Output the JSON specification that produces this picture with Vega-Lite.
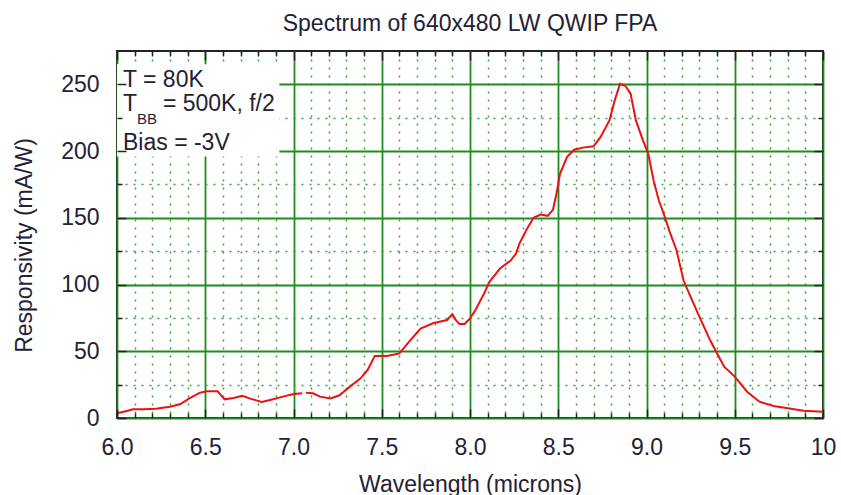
{
  "$schema": "https://vega.github.io/schema/vega-lite/v6.json",
  "width": 706,
  "height": 367,
  "autosize": "none",
  "padding": {"left": 117, "top": 51, "right": 18, "bottom": 77},
  "background": "white",
  "config": {
    "font": "Liberation Sans",
    "view": {"stroke": "#222222", "strokeWidth": 2},
    "axis": {"labelFont": "Liberation Sans", "titleFont": "Liberation Sans", "labelColor": "#222233", "titleColor": "#222233", "labelFontSize": 23, "titleFontSize": 23, "titleFontWeight": "normal", "labelOverlap": false, "labelFlush": false}
  },
  "title": {"text": "Spectrum of 640x480 LW QWIP FPA", "fontSize": 23, "fontWeight": "normal", "color": "#222233", "offset": 14},
  "datasets": {
    "box": [{"x0": 6.0, "x1": 6.92, "y0": 196, "y1": 265}],
    "spectrum": [
      {"w": 6.00, "r": 3.5}, {"w": 6.05, "r": 5}, {"w": 6.09, "r": 6.5}, {"w": 6.15, "r": 6.5},
      {"w": 6.22, "r": 7}, {"w": 6.30, "r": 8.5}, {"w": 6.36, "r": 10.5}, {"w": 6.41, "r": 14.7},
      {"w": 6.47, "r": 19}, {"w": 6.51, "r": 20}, {"w": 6.57, "r": 20}, {"w": 6.61, "r": 14},
      {"w": 6.66, "r": 15}, {"w": 6.71, "r": 16.7}, {"w": 6.75, "r": 14.7}, {"w": 6.82, "r": 12},
      {"w": 6.89, "r": 14.2}, {"w": 6.94, "r": 16}, {"w": 7.00, "r": 18}, {"w": 7.05, "r": 18.5},
      {"w": 7.06, "r": null},
      {"w": 7.07, "r": 19}, {"w": 7.11, "r": 18.5}, {"w": 7.15, "r": 16}, {"w": 7.21, "r": 14.7},
      {"w": 7.26, "r": 17}, {"w": 7.32, "r": 23.5}, {"w": 7.38, "r": 29.7}, {"w": 7.42, "r": 36},
      {"w": 7.46, "r": 46.4}, {"w": 7.53, "r": 46.4}, {"w": 7.60, "r": 48.4}, {"w": 7.66, "r": 58},
      {"w": 7.72, "r": 67}, {"w": 7.79, "r": 71}, {"w": 7.87, "r": 73.4}, {"w": 7.90, "r": 77.8},
      {"w": 7.92, "r": 73.4}, {"w": 7.94, "r": 70.4}, {"w": 7.97, "r": 70.4}, {"w": 8.00, "r": 74.6},
      {"w": 8.03, "r": 80.8}, {"w": 8.08, "r": 93.3}, {"w": 8.11, "r": 102}, {"w": 8.17, "r": 112},
      {"w": 8.23, "r": 118}, {"w": 8.26, "r": 123}, {"w": 8.28, "r": 130.7}, {"w": 8.32, "r": 141},
      {"w": 8.36, "r": 150}, {"w": 8.40, "r": 152.5}, {"w": 8.44, "r": 151.5}, {"w": 8.47, "r": 156},
      {"w": 8.49, "r": 168}, {"w": 8.51, "r": 183}, {"w": 8.55, "r": 195.7}, {"w": 8.59, "r": 201},
      {"w": 8.64, "r": 202.6}, {"w": 8.70, "r": 203.6}, {"w": 8.74, "r": 210.6}, {"w": 8.79, "r": 223},
      {"w": 8.82, "r": 238}, {"w": 8.85, "r": 250.5}, {"w": 8.88, "r": 249}, {"w": 8.91, "r": 243},
      {"w": 8.94, "r": 223}, {"w": 8.98, "r": 208}, {"w": 9.01, "r": 198}, {"w": 9.04, "r": 178},
      {"w": 9.07, "r": 163}, {"w": 9.10, "r": 152}, {"w": 9.13, "r": 140}, {"w": 9.17, "r": 125.7},
      {"w": 9.21, "r": 103}, {"w": 9.25, "r": 90.8}, {"w": 9.30, "r": 75.8}, {"w": 9.36, "r": 58.4},
      {"w": 9.40, "r": 48.4}, {"w": 9.44, "r": 38.4}, {"w": 9.50, "r": 31}, {"w": 9.57, "r": 19.7},
      {"w": 9.64, "r": 12.2}, {"w": 9.72, "r": 9}, {"w": 9.81, "r": 7.2}, {"w": 9.89, "r": 5.5},
      {"w": 10.0, "r": 4.7}
    ],
    "notes": [
      {"x": 6.034, "y": 253.0, "t": "T = 80K"},
      {"x": 6.034, "y": 235.3, "t": "T"},
      {"x": 6.26, "y": 235.3, "t": "= 500K, f/2"},
      {"x": 6.034, "y": 206.0, "t": "Bias = -3V"}
    ],
    "sub": [{"x": 6.113, "y": 224.0, "t": "BB"}]
  },
  "resolve": {"axis": {"x": "independent", "y": "independent"}},
  "layer": [
    {
      "data": {"name": "box"},
      "mark": {"type": "rect", "fill": "white", "stroke": null},
      "encoding": {
        "x": {"field": "x0", "type": "quantitative", "scale": {"domain": [6, 10], "nice": false, "zero": false},
          "axis": {"orient": "bottom", "title": "Wavelength (microns)", "titlePadding": 14,
            "values": [6.0,6.1,6.2,6.3,6.4,6.5,6.6,6.7,6.8,6.9,7.0,7.1,7.2,7.3,7.4,7.5,7.6,7.7,7.8,7.9,8.0,8.1,8.2,8.3,8.4,8.5,8.6,8.7,8.8,8.9,9.0,9.1,9.2,9.3,9.4,9.5,9.6,9.7,9.8,9.9,10.0],
            "labelExpr": "round(datum.value*10) % 5 == 0 ? (round(datum.value*10) == 100 ? '10' : format(datum.value, '.1f')) : ''",
            "labelPadding": 18, "ticks": false, "domain": false, "grid": true, "zindex": 0,
            "gridColor": {"condition": {"test": "round(datum.value*10) % 5 == 0", "value": "#1e8c1e"}, "value": "#36a336"},
            "gridDash": {"condition": {"test": "round(datum.value*10) % 5 == 0", "value": []}, "value": [2, 6]},
            "gridWidth": {"condition": {"test": "round(datum.value*10) % 5 == 0", "value": 1.8}, "value": 1.5},
            "gridOpacity": 1}},
        "x2": {"field": "x1"},
        "y": {"field": "y0", "type": "quantitative", "scale": {"domain": [0, 275], "nice": false},
          "axis": {"orient": "left", "title": "Responsivity (mA/W)", "titlePadding": 24, "titleY": 194,
            "values": [0,25,50,75,100,125,150,175,200,225,250],
            "labelExpr": "datum.value % 50 == 0 ? datum.label : ''",
            "labelPadding": 18, "ticks": false, "domain": false, "grid": true, "zindex": 0,
            "gridColor": {"condition": {"test": "datum.value % 50 == 0", "value": "#1e8c1e"}, "value": "#36a336"},
            "gridDash": {"condition": {"test": "datum.value % 50 == 0", "value": []}, "value": [2, 6]},
            "gridWidth": {"condition": {"test": "datum.value % 50 == 0", "value": 1.8}, "value": 1.5},
            "gridOpacity": 1}},
        "y2": {"field": "y1"}
      }
    },
    {
      "data": {"name": "spectrum"},
      "mark": {"type": "line", "color": "#ee1111", "strokeWidth": 2, "invalid": "break-paths-show-domains"},
      "encoding": {
        "x": {"field": "w", "type": "quantitative",
          "axis": {"orient": "bottom", "title": null, "labels": false, "grid": false, "domain": false, "zindex": 1,
            "values": [6.0,6.1,6.2,6.3,6.4,6.5,6.6,6.7,6.8,6.9,7.0,7.1,7.2,7.3,7.4,7.5,7.6,7.7,7.8,7.9,8.0,8.1,8.2,8.3,8.4,8.5,8.6,8.7,8.8,8.9,9.0,9.1,9.2,9.3,9.4,9.5,9.6,9.7,9.8,9.9,10.0],
            "tickColor": "#222222", "tickWidth": 1.5,
            "tickSize": {"condition": {"test": "round(datum.value*10) % 5 == 0", "value": -9}, "value": -5}}},
        "y": {"field": "r", "type": "quantitative",
          "axis": {"orient": "left", "title": null, "labels": false, "grid": false, "domain": false, "zindex": 1,
            "values": [0,25,50,75,100,125,150,175,200,225,250],
            "tickColor": "#222222", "tickWidth": 1.5,
            "tickSize": {"condition": {"test": "datum.value % 50 == 0", "value": -9}, "value": -5}}}
      }
    },
    {
      "data": {"name": "notes"},
      "mark": {"type": "text", "align": "left", "baseline": "middle", "fontSize": 23, "color": "#222233"},
      "encoding": {
        "x": {"field": "x", "type": "quantitative",
          "axis": {"orient": "top", "title": null, "labels": false, "grid": false, "domain": false, "zindex": 1,
            "values": [6.0,6.1,6.2,6.3,6.4,6.5,6.6,6.7,6.8,6.9,7.0,7.1,7.2,7.3,7.4,7.5,7.6,7.7,7.8,7.9,8.0,8.1,8.2,8.3,8.4,8.5,8.6,8.7,8.8,8.9,9.0,9.1,9.2,9.3,9.4,9.5,9.6,9.7,9.8,9.9,10.0],
            "tickColor": "#222222", "tickWidth": 1.5,
            "tickSize": {"condition": {"test": "round(datum.value*10) % 5 == 0", "value": -9}, "value": -5}}},
        "y": {"field": "y", "type": "quantitative",
          "axis": {"orient": "right", "title": null, "labels": false, "grid": false, "domain": false, "zindex": 1,
            "values": [0,25,50,75,100,125,150,175,200,225,250],
            "tickColor": "#222222", "tickWidth": 1.5,
            "tickSize": {"condition": {"test": "datum.value % 50 == 0", "value": -9}, "value": -5}}},
        "text": {"field": "t"}
      }
    },
    {
      "data": {"name": "sub"},
      "mark": {"type": "text", "align": "left", "baseline": "middle", "fontSize": 15, "color": "#222233"},
      "encoding": {
        "x": {"field": "x", "type": "quantitative", "axis": null},
        "y": {"field": "y", "type": "quantitative", "axis": null},
        "text": {"field": "t"}
      }
    }
  ]
}
